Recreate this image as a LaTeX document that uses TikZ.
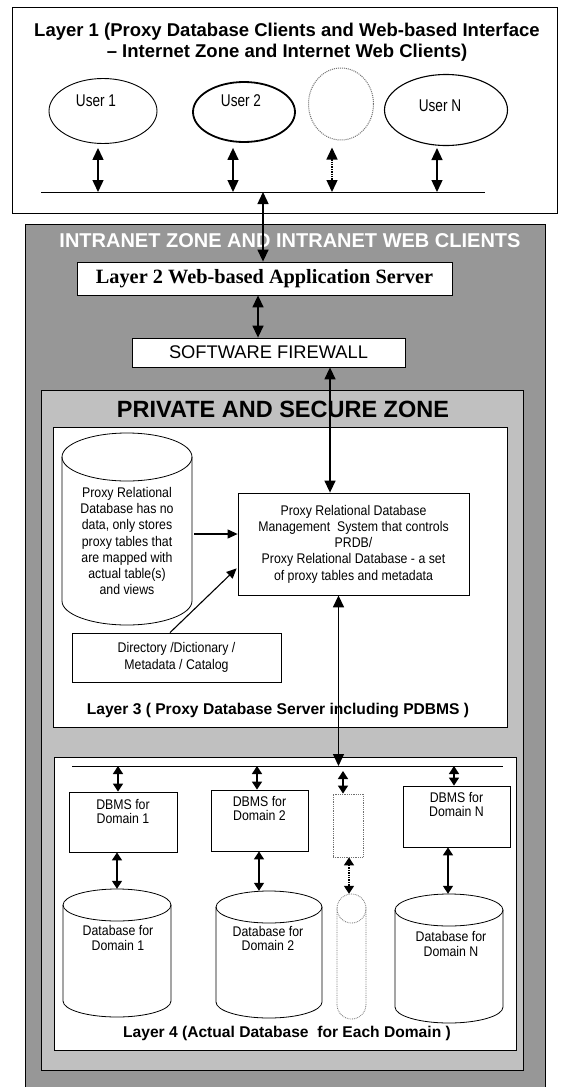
\documentclass[tikz,border=0pt]{standalone}
\usepackage{fontspec}
\setmainfont{Liberation Sans}
\newfontfamily\tnr{Liberation Serif}
\newfontfamily\nf[FakeStretch=0.88]{Liberation Sans}
\newfontfamily\uf[FakeStretch=0.8]{Liberation Sans}
\usetikzlibrary{arrows.meta,shapes.geometric}
\definecolor{intra}{HTML}{979797}
\definecolor{priv}{HTML}{C0C0C0}
\definecolor{dotc}{HTML}{707070}
\newcommand\dbcyl[7]{%
  \node[inner sep=0pt, minimum width={(#3-#2)*1pt}, minimum height={(#5-#4)*1pt}] (#1) at ({(#2+#3)/2},{(#4+#5)/2}) {};
  \path[draw, fill=white, #7] (#2,#5-#6) arc[start angle=180, end angle=360, x radius={(#3-#2)/2*1pt}, y radius=#6pt]
     -- (#3,#4+#6) arc[start angle=0, end angle=180, x radius={(#3-#2)/2*1pt}, y radius=#6pt] -- cycle;
  \draw[#7] (#2,#4+#6) arc[start angle=180, end angle=360, x radius={(#3-#2)/2*1pt}, y radius=#6pt];
}
\begin{document}
\begin{tikzpicture}[x=1pt,y=-1pt,
  box/.style={draw, fill=white, line width=0.8pt, inner sep=0pt},
  dbl/.style={line width=1.4pt, {Triangle[width=11pt,length=12pt]}-{Triangle[width=11pt,length=12pt]}},
  dbls/.style={line width=1.4pt, {Triangle[width=10pt,length=8pt]}-{Triangle[width=10pt,length=8pt]}},
  sarr/.style={line width=1.1pt, -{Triangle[width=9pt,length=10pt]}},
  small/.style={font=\nf\fontsize{14}{16.3}\selectfont, align=center},
  dtxt/.style={font=\nf\fontsize{14}{14.5}\selectfont, align=center, inner sep=0pt},
  utxt/.style={font=\uf\fontsize{17}{19}\selectfont, inner sep=0pt},
  ell/.style={ellipse, draw, inner sep=0pt},
  lbl/.style={font=\bfseries\fontsize{15.6}{17}\selectfont, inner sep=0pt}
]
\useasboundingbox (0,0) rectangle (561,1087);
\fill[white] (0,0) rectangle (561,1087);

% ---------- Layer 1
\node[draw, line width=1pt, minimum width=545, minimum height=206, inner sep=0pt, anchor=north west] (L1) at (12,7) {};
\node[font=\bfseries\fontsize{18.5}{21}\selectfont, align=center] (t1) at (287,42)
  {Layer 1 (Proxy Database Clients and Web-based Interface\\– Internet Zone and Internet Web Clients)};
\node[ell, line width=0.9pt, minimum width=108, minimum height=65] (u1) at (103,111) {};
\node[utxt] (u1t) at (96,101) {User 1};
\node[ell, line width=1.8pt, minimum width=102, minimum height=60] (u2) at (244,112) {};
\node[utxt] (u2t) at (241,101) {User 2};
\node[ell, draw=dotc, densely dotted, line width=1pt, minimum width=65, minimum height=72] (u3) at (341,104) {};
\node[ell, line width=1.1pt, minimum width=123, minimum height=71] (uN) at (446,110) {};
\node[utxt] (uNt) at (440,106) {User N};
\coordinate (busL) at (41,192);
\coordinate (busR) at (485,192);
\draw[line width=1pt] (busL) -- (busR);
\path (u1.south) ++(-5,4) coordinate (a1);
\draw[dbl] (a1) -- (a1 |- busL);
\path (u2.south) ++(-11,5) coordinate (a2);
\draw[dbl] (a2) -- (a2 |- busL);
\path (u3.south) ++(-9,7) coordinate (a3);
\draw[dbl, densely dotted] (a3) -- (a3 |- busL);
\path (uN.south) ++(-9,2) coordinate (a4);
\draw[dbl] (a4) -- (a4 |- busL);

% ---------- Intranet zone
\node[draw, fill=intra, line width=1pt, minimum width=520, minimum height=900, inner sep=0pt, anchor=north west] (intra) at (25,224) {};
\node[text=white, font=\bfseries\fontsize{20}{22}\selectfont, inner sep=0pt] (t2) at (290,241) {INTRANET ZONE AND INTRANET WEB CLIENTS};
\node[box, minimum width=375, minimum height=33, font=\tnr\bfseries\fontsize{20.3}{22}\selectfont] (l2) at (264.5,278.5) {Layer 2 Web-based Application Server};
\node[box, minimum width=273, minimum height=29, font=\fontsize{18.3}{20}\selectfont] (fw) at (268.5,352.5) {SOFTWARE FIREWALL};
\path (l2.north) ++(-1.5,0) coordinate (a0);
\draw[dbl] (a0) -- (a0 |- busL);
\path (l2.south) ++(-6.5,0) coordinate (a5);
\draw[dbl] (a5) -- (a5 |- fw.north);

% ---------- Private zone
\node[draw, fill=priv, line width=0.8pt, minimum width=482, minimum height=680, inner sep=0pt, anchor=north west] (priv) at (41,390) {};
\node[font=\bfseries\fontsize{23.5}{25}\selectfont, inner sep=0pt] (t3) at (283,409) {PRIVATE AND SECURE ZONE};

% ---------- Layer 3
\node[box, minimum width=454, minimum height=300, anchor=north west] (L3) at (53,427) {};
\dbcyl{cyl3}{62}{192}{433}{625}{24}{line width=0.8pt}
\node[small] (cyl3t) at (127,541) {Proxy Relational\\Database has no\\data, only stores\\proxy tables that\\are mapped with\\actual table(s)\\and views};
\node[box, minimum width=231, minimum height=102, small] (prd) at (353.5,544)
  {Proxy Relational Database\\Management~ System that controls\\PRDB/\\Proxy Relational Database - a set\\of proxy tables and metadata};
\node[box, minimum width=209, minimum height=49, small] (dir) at (176.5,657.5) {Directory /Dictionary /\\Metadata / Catalog};
\node[lbl] (t4) at (278,710) {Layer 3 ( Proxy Database Server including PDBMS )};
\path (cyl3.east) ++(2,5) coordinate (a6);
\draw[sarr] (a6) -- (a6 -| prd.west);
\path (dir.north) ++(-6.5,0) coordinate (a7);
\path (prd.south west) ++(-1,-27) coordinate (a8);
\draw[sarr] (a7) -- (a8);
\path (prd.north) ++(-23.5,0) coordinate (a9);
\draw[dbl] (a9) -- (a9 |- fw.south);

% ---------- Layer 4
\node[box, minimum width=462, minimum height=293, anchor=north west] (L4) at (54,757) {};
\coordinate (b4L) at (72,766);
\coordinate (b4R) at (503,766);
\draw[line width=0.8pt] (b4L) -- (b4R);
\path (prd.south) ++(-15,0) coordinate (a10);
\draw[dbl] (a10) -- (a10 |- b4L);

\node[box, minimum width=108, minimum height=60] (d1) at (123,822) {};
\node[dtxt, anchor=north] (d1t) at (123,799) {DBMS for\\Domain 1};
\node[box, minimum width=97, minimum height=61] (d2) at (259.5,820.5) {};
\node[dtxt, anchor=north] (d2t) at (259.5,796) {DBMS for\\Domain 2};
\node[draw=dotc, densely dotted, line width=0.8pt, minimum width=30, minimum height=63, inner sep=0pt] (dd) at (348,825.5) {};
\node[box, minimum width=107, minimum height=61] (dN) at (456.5,816.5) {};
\node[dtxt, anchor=north] (dNt) at (456.5,792) {DBMS for\\Domain N};

\path (d1.north) ++(-5,0) coordinate (c1);
\draw[dbls] (c1 |- b4L) -- (c1);
\path (d2.north) ++(-2.5,0) coordinate (c2);
\draw[dbls] (c2 |- b4L) -- (c2);
\path (dd.north) ++(-5,0) coordinate (c3);
\draw[dbls, shorten <=5pt] (c3 |- b4L) -- (c3);
\path (dN.north) ++(-2.5,0) coordinate (c4);
\draw[dbls] (c4 |- b4L) -- (c4);

\dbcyl{db1}{63}{171}{889}{1017}{16}{line width=0.8pt}
\node[dtxt] (db1t) at (118,938) {Database for\\Domain 1};
\dbcyl{db2}{216}{322}{891}{1018}{16}{line width=0.8pt}
\node[dtxt] (db2t) at (268,938.5) {Database for\\Domain 2};
\dbcyl{dbd}{337}{366}{894}{1019}{14.5}{draw=dotc, densely dotted, line width=0.8pt}
\dbcyl{dbN}{395}{503}{894}{1023}{16}{line width=0.8pt}
\node[dtxt] (dbNt) at (451,944) {Database for\\Domain N};

\path (d1.south) ++(-6,0) coordinate (e1);
\draw[dbls] (e1) -- (e1 |- db1.north);
\path (d2.south) ++(-0.5,0) coordinate (e2);
\draw[dbls] (e2) -- (e2 |- db2.north);
\path (dd.south) ++(1,0) coordinate (e3);
\draw[dbls, densely dotted] (e3) -- (e3 |- dbd.north);
\path (dN.south) ++(-8.5,0) coordinate (e4);
\draw[dbls] (e4) -- (e4 |- dbN.north);

\node[lbl] (t5) at (287,1033) {Layer 4 (Actual Database~ for Each Domain )};
\end{tikzpicture}
\end{document}
